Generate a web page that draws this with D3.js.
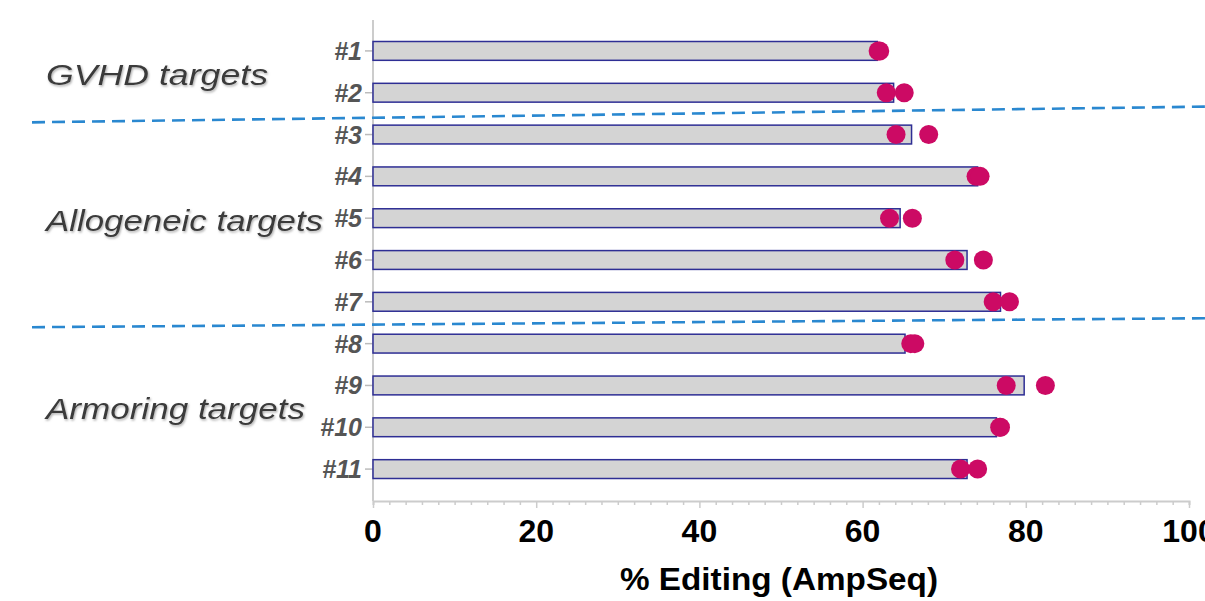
<!DOCTYPE html>
<html>
<meta charset="utf-8">
<head>
    <script src="https://d3js.org/d3.v7.min.js"></script>
<style>
    body { margin: 0; background: #fff; }
    .tick-label { font-family: "Liberation Sans", Arial, sans-serif; font-weight: bold; }
    .target-label { font-family: "Liberation Sans", Arial, sans-serif; font-weight: bold; font-style: italic; fill: #555; }
    .group-label { font-family: "Liberation Sans", Arial, sans-serif; font-style: italic; fill: #3a3a3a; }
</style>
</head>
<body>
<script>
    // data
    var targets = ["#1", "#2", "#3", "#4", "#5", "#6", "#7", "#8", "#9", "#10", "#11"];
    var meanEditing = [61.8, 63.8, 66.0, 74.1, 64.6, 72.8, 76.9, 65.2, 79.8, 76.4, 72.8];
    var rep1 = [61.9, 62.9, 64.1, 73.9, 63.3, 71.3, 76.0, 65.9, 77.6, 76.8, 72.0];
    var rep2 = [62.1, 65.1, 68.1, 74.4, 66.1, 74.8, 78.0, 66.4, 82.4, 76.9, 74.1];
    var xTicks = [0, 20, 40, 60, 80, 100];

    // group annotations (first/last target of each group)
    var groupNames = ["GVHD targets", "Allogeneic targets", "Armoring targets"];
    var groupFirst = ["#1", "#3", "#8"];
    var groupLast = ["#2", "#7", "#11"];
    var groupWidths = [222, 277, 259];

    // separators sit between these targets; tilt = [left offset, right offset]
    var sepAfter = ["#2", "#7"];
    var sepTilt = [[8.7, -7], [4.5, -4.5]];

    var width = 1205, height = 601;

    var x = d3.scaleLinear().domain([0, 100]).range([373, 1189]);
    var y = d3.scaleBand().domain(targets).range([30, 490]).paddingInner(0.55).paddingOuter(0.275);
    var yc = function(t) { return y(t) + y.bandwidth() / 2; };

    var svg = d3.select("body").append("svg")
        .attr("width", width)
        .attr("height", height);

    // soft shadow for the group labels
    var defs = svg.append("defs");
    defs.append("filter").attr("id", "shadow")
        .attr("x", "-5%").attr("y", "-20%").attr("width", "110%").attr("height", "140%")
      .append("feDropShadow")
        .attr("dx", 1).attr("dy", 1.5).attr("stdDeviation", 1)
        .attr("flood-color", "#999").attr("flood-opacity", 0.8);

    // y axis line + ticks
    svg.append("line")
        .attr("x1", x(0)).attr("x2", x(0))
        .attr("y1", 20).attr("y2", 501)
        .attr("stroke", "#ccc").attr("stroke-width", 2);

    svg.selectAll(".ytick")
        .data(targets)
        .enter().append("line")
        .attr("x1", x(0) - 8).attr("x2", x(0))
        .attr("y1", yc).attr("y2", yc)
        .attr("stroke", "#bbb").attr("stroke-width", 1.5);

    svg.selectAll(".target-label")
        .data(targets)
        .enter().append("text")
        .attr("class", "target-label")
        .attr("x", x(0) - 11)
        .attr("y", yc)
        .attr("dy", "0.36em")
        .attr("text-anchor", "end")
        .style("font-size", "25px")
        .text(function(d) { return d; });

    // x axis: minor ticks every 2, longer at the labelled values
    var xAxis = d3.axisBottom(x)
        .tickValues(d3.range(0, 101, 2))
        .tickSize(4)
        .tickFormat("");
    var gx = svg.append("g")
        .attr("transform", "translate(0,501)")
        .call(xAxis);
    gx.select(".domain").attr("stroke", "#ccc").attr("stroke-width", 2);
    gx.selectAll(".tick line").attr("stroke", "#ccc").attr("stroke-width", 1.5)
        .attr("y2", function(d) { return d % 20 === 0 ? 7 : 4; });

    svg.selectAll(".tick-label")
        .data(xTicks)
        .enter().append("text")
        .attr("class", "tick-label")
        .attr("x", function(d) { return x(d); })
        .attr("y", 542)
        .attr("text-anchor", "middle")
        .style("font-size", "32px")
        .text(function(d) { return d; });

    svg.append("text")
        .attr("class", "tick-label")
        .attr("x", 779)
        .attr("y", 590)
        .attr("text-anchor", "middle")
        .attr("textLength", 318)
        .attr("lengthAdjust", "spacingAndGlyphs")
        .style("font-size", "32px")
        .text("% Editing (AmpSeq)");

    // bars
    svg.selectAll(".bar")
        .data(targets)
        .enter().append("rect")
        .attr("class", "bar")
        .attr("x", x(0))
        .attr("y", function(d) { return y(d); })
        .attr("width", function(d, i) { return x(meanEditing[i]) - x(0); })
        .attr("height", y.bandwidth())
        .attr("fill", "#d4d4d4")
        .attr("stroke", "#2e2e94")
        .attr("stroke-width", 1.5);

    // replicate dots
    [rep1, rep2].forEach(function(rep) {
        svg.selectAll(null)
            .data(targets)
            .enter().append("circle")
            .attr("cx", function(d, i) { return x(rep[i]); })
            .attr("cy", yc)
            .attr("r", 9.5)
            .attr("fill", "#cc0a64");
    });

    // dashed separators between groups
    sepAfter.forEach(function(t, i) {
        var next = targets[targets.indexOf(t) + 1];
        var mid = (yc(t) + yc(next)) / 2;
        svg.append("line")
            .attr("x1", 32).attr("x2", width)
            .attr("y1", mid + sepTilt[i][0])
            .attr("y2", mid + sepTilt[i][1])
            .attr("stroke", "#2a88d0")
            .attr("stroke-width", 2.6)
            .attr("stroke-dasharray", "13,7");
    });

    // group labels
    groupNames.forEach(function(name, i) {
        var mid = (yc(groupFirst[i]) + yc(groupLast[i])) / 2;
        svg.append("text")
            .attr("class", "group-label")
            .attr("x", 46)
            .attr("y", mid + 13)
            .attr("textLength", groupWidths[i])
            .attr("lengthAdjust", "spacingAndGlyphs")
            .attr("filter", "url(#shadow)")
            .style("font-size", "30px")
            .text(name);
    });
</script>
</body>
</html>
